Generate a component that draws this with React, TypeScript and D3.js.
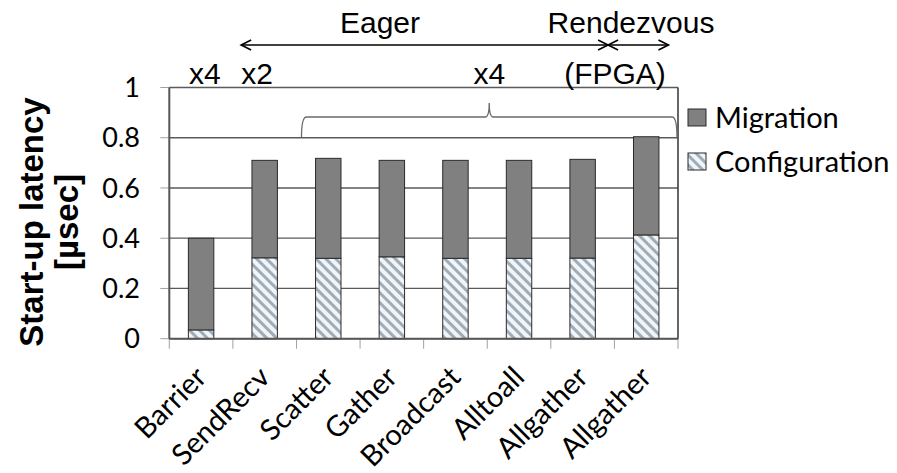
import * as d3 from 'd3';

const categories = ['Barrier', 'SendRecv', 'Scatter', 'Gather', 'Broadcast', 'Alltoall', 'Allgather', 'Allgather'];
const configuration = [0.035, 0.322, 0.32, 0.326, 0.32, 0.32, 0.321, 0.413];
const migration = [0.365, 0.388, 0.398, 0.384, 0.39, 0.39, 0.393, 0.391];
const yTicks = [0, 0.2, 0.4, 0.6, 0.8, 1];
const seriesNames = ['Configuration', 'Migration'];

const W = 897;
const H = 473;
const plot = { left: 169.3, right: 678, top: 87.5, bottom: 338.7 };

const gillFont = 'Lato, "Open Sans", sans-serif';
const arialFont = '"Liberation Sans", Arial, sans-serif';

const App = () => {
  const x = d3.scaleBand<number>()
    .domain(categories.map((_, i) => i))
    .range([plot.left, plot.right])
    .padding(0);
  const y = d3.scaleLinear().domain([0, 1]).range([plot.bottom, plot.top]);

  const step = x.step();
  const barW = step * 0.4;
  // position in "band units" from the left edge of the plot
  const bx = (u: number) => plot.left + u * step;

  const rows = categories.map((c, i) => ({ i, Configuration: configuration[i], Migration: migration[i] }));
  const stacked = d3.stack<any>().keys(seriesNames)(rows);

  const fills: Record<string, string> = {
    Configuration: 'url(#hatch)',
    Migration: '#808080',
  };

  // brace over the x4 group
  const bl = bx(2) + 5;
  const br = bx(8) - 1;
  const bm = (bl + br) / 2;
  const by = 117;
  const braceBottom = y(0.8);
  const brace = d3.path();
  brace.moveTo(bl, braceBottom);
  brace.quadraticCurveTo(bl, by, bl + 5, by);
  brace.lineTo(bm - 4, by);
  brace.quadraticCurveTo(bm, by, bm, by - 14);
  brace.quadraticCurveTo(bm, by, bm + 4, by);
  brace.lineTo(br - 5, by);
  brace.quadraticCurveTo(br, by, br, braceBottom);

  const arrowY = 45;
  const eagerL = bx(1.13);
  const mid = bx(6.9);
  const rendR = bx(7.85);
  const head = (xp: number, dir: number) =>
    `M${xp + dir * 10},${arrowY - 5}L${xp},${arrowY}L${xp + dir * 10},${arrowY + 5}`;

  return (
    <svg width={W} height={H} style={{ position: 'absolute', left: 0, top: 0, background: '#fff' }}>
      <defs>
        <pattern id="hatch" width="7" height="7" patternUnits="userSpaceOnUse" patternTransform="rotate(45)">
          <rect width="7" height="7" fill="#eef6fb" />
          <rect width="7" height="3" fill="#a3abb3" />
        </pattern>
      </defs>

      {/* gridlines */}
      {yTicks.map(t => (
        <line key={t} x1={plot.left} x2={plot.right} y1={y(t)} y2={y(t)} stroke="#5a5a5a" strokeWidth={1.3} />
      ))}
      {/* y ticks */}
      {yTicks.map(t => (
        <line key={'yt' + t} x1={plot.left - 9} x2={plot.left} y1={y(t)} y2={y(t)} stroke="#a0a0a0" strokeWidth={1} />
      ))}
      {/* x ticks at category boundaries */}
      {d3.range(categories.length + 1).map(i => (
        <line key={'xt' + i} x1={bx(i)} x2={bx(i)} y1={plot.bottom} y2={plot.bottom + 10} stroke="#a0a0a0" strokeWidth={1} />
      ))}

      {/* bars */}
      {stacked.map(s => (
        <g key={s.key}>
          {s.map((d, i) => (
            <rect
              key={i}
              x={(x(i) as number) + (step - barW) / 2}
              width={barW}
              y={y(d[1])}
              height={y(d[0]) - y(d[1])}
              fill={fills[s.key]}
              stroke="#2a2a2a"
              strokeWidth={1}
            />
          ))}
        </g>
      ))}

      {/* frame */}
      <line x1={plot.left} x2={plot.left} y1={plot.top} y2={plot.bottom} stroke="#555" strokeWidth={2} />
      <line x1={plot.left} x2={plot.right} y1={plot.bottom} y2={plot.bottom} stroke="#555" strokeWidth={2} />
      <line x1={plot.right} x2={plot.right} y1={plot.top} y2={plot.bottom} stroke="#333" strokeWidth={1.5} />

      {/* y tick labels */}
      {yTicks.map(t => (
        <text key={'yl' + t} x={140} y={y(t)} dy="0.36em" textAnchor="end" fontFamily={gillFont} fontSize={27} fill="#000">
          {t === 0 || t === 1 ? String(t) : t.toFixed(1)}
        </text>
      ))}

      {/* y title */}
      <g transform={`translate(43,222) rotate(-90)`}>
        <text textAnchor="middle" fontFamily={arialFont} fontWeight="bold" fontSize={33}>Start-up latency</text>
      </g>
      <g transform={`translate(78,222) rotate(-90)`}>
        <text textAnchor="middle" fontFamily={arialFont} fontWeight="bold" fontSize={33}>[µsec]</text>
      </g>

      {/* x labels */}
      {categories.map((c, i) => (
        <text
          key={'xl' + i}
          transform={`translate(${(x(i) as number) + step / 2 + 7},${379}) rotate(-45)`}
          textAnchor="end"
          fontFamily={gillFont}
          fontSize={29}
        >
          {c}
        </text>
      ))}

      {/* legend */}
      {['Migration', 'Configuration'].map((k, j) => (
        <g key={k} transform={`translate(688,${109 + j * 44})`}>
          <rect width={18} height={17} fill={fills[k]} stroke="#2a2a2a" strokeWidth={1} />
          <text x={27} y={19} fontFamily={gillFont} fontSize={29}>{k}</text>
        </g>
      ))}

      {/* annotations */}
      <path d={brace.toString()} fill="none" stroke="#6a6a6a" strokeWidth={1.3} />
      <g stroke="#000" strokeWidth={1.6} fill="none">
        <line x1={eagerL} x2={rendR} y1={arrowY} y2={arrowY} />
        <path d={head(eagerL, 1)} />
        <path d={head(mid, -1)} />
        <path d={head(mid, 1)} />
        <path d={head(rendR, -1)} />
      </g>
      <g fontFamily={arialFont} fontSize={30} fill="#000" textAnchor="middle">
        <text x={380} y={33}>Eager</text>
        <text x={631} y={33}>Rendezvous</text>
        <text x={bx(0.56)} y={84}>x4</text>
        <text x={bx(1.38)} y={84}>x2</text>
        <text x={bm} y={84}>x4</text>
        <text x={615} y={84}>(FPGA)</text>
      </g>
    </svg>
  );
};

export default App;
